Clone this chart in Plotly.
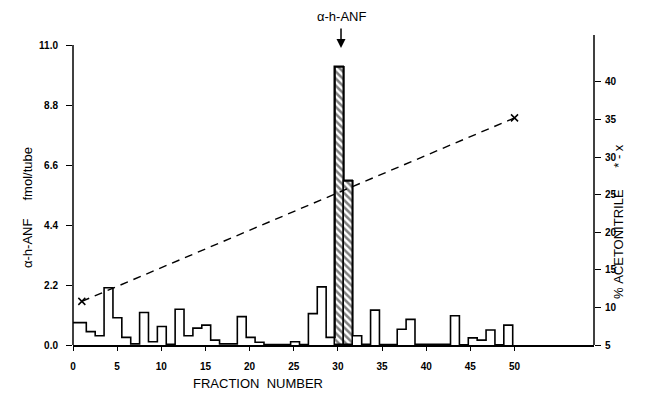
import plotly.graph_objects as go

# ---- data ----
fractions = list(range(1, 50))
anf_fmol = [0.82, 0.49, 0.34, 2.10, 1.00, 0.28, 0.04, 1.19, 0.12, 0.68,
            0.03, 1.31, 0.34, 0.62, 0.73, 0.18, 0.04, 0.04, 1.04, 0.28,
            0.10, 0.02, 0.02, 0.02, 0.12, 0.02, 1.15, 2.13, 0.28, 10.2,
            6.02, 0.34, 0.03, 1.28, 0.02, 0.02, 0.58, 0.94, 0.03, 0.03,
            0.03, 0.03, 1.07, 0.01, 0.26, 0.18, 0.55, 0.01, 0.73]
peak_fractions = [30, 31]
gradient_fractions = [1, 50]
acetonitrile_pct = [10.8, 35.2]
left_ticks = [0.0, 2.2, 4.4, 6.6, 8.8, 11.0]
right_ticks = [5, 10, 15, 20, 25, 30, 35, 40]
x_ticks = [0, 5, 10, 15, 20, 25, 30, 35, 40, 45, 50]

# bin edges (hand-drawn histogram, slightly offset from tick positions)
def right_edge(f):
    return f + 0.5 + 0.3 * f / 50

def left_edge(f):
    return max(right_edge(f - 1), 0) if f > 1 else 0

step_x = [left_edge(fractions[0])] + [right_edge(f) for f in fractions]
step_y = anf_fmol + [0]

fig = go.Figure()

# hatched peak bars
peak_vals = [anf_fmol[fractions.index(f)] for f in peak_fractions]
fig.add_trace(go.Bar(
    x=[(left_edge(f) + right_edge(f)) / 2 for f in peak_fractions],
    y=peak_vals,
    width=[right_edge(f) - left_edge(f) for f in peak_fractions],
    marker=dict(color="white", line=dict(color="black", width=1.5),
                pattern=dict(shape="\\", fgcolor="black", bgcolor="white",
                             size=5, solidity=0.5)),
    showlegend=False, hoverinfo="skip"))

# histogram outline
fig.add_trace(go.Scatter(
    x=step_x, y=step_y, mode="lines", line=dict(color="black", width=1.6, shape="hv"),
    showlegend=False, hoverinfo="skip"))

# acetonitrile gradient
fig.add_trace(go.Scatter(
    x=gradient_fractions, y=acetonitrile_pct, yaxis="y2", mode="lines+markers",
    line=dict(color="black", width=1.4, dash="8px,6px"),
    marker=dict(symbol="x-thin", size=7, line=dict(color="black", width=1.5), color="black"),
    showlegend=False, hoverinfo="skip"))

FAM = "Liberation Sans, Arial, sans-serif"
tickfont = dict(family=FAM, size=10, color="black", weight=700)
labfont = dict(family=FAM, size=13, color="black")

L_PX = 310 / 27.27  # left axis top value
R_TOP = 5 + 310 / 7.52

# page body has an 8px margin, so the figure is 8px smaller and offset
fig.update_layout(
    width=644, height=387,
    margin=dict(l=65, r=58, t=27, b=50, autoexpand=False),
    plot_bgcolor="white", paper_bgcolor="white",
    bargap=0,
    xaxis=dict(range=[0, 59], tickvals=x_ticks, ticks="outside", ticklen=4,
               tickwidth=1.2, tickcolor="black", showline=True, linecolor="black",
               linewidth=1.5, showgrid=False, zeroline=False, tickfont=tickfont,
               ticklabelstandoff=7, automargin=False),
    yaxis=dict(range=[0, L_PX], tickvals=left_ticks, tickformat=".1f",
               ticks="outside", ticklen=6, tickwidth=1.2, tickcolor="black",
               showline=False, showgrid=False, zeroline=False, tickfont=tickfont,
               ticklabelstandoff=6, automargin=False),
    yaxis2=dict(range=[5, R_TOP], tickvals=right_ticks, overlaying="y", side="right",
                ticks="outside", ticklen=6, tickwidth=1.2, tickcolor="black",
                showline=False, showgrid=False, zeroline=False, tickfont=tickfont,
                ticklabelstandoff=2, automargin=False),
    shapes=[
        dict(type="line", xref="paper", yref="y", x0=0, x1=0, y0=0, y1=11.0,
             line=dict(color="black", width=1.5)),
        dict(type="line", xref="paper", yref="paper", x0=1, x1=1, y0=0, y1=1,
             line=dict(color="black", width=1.5)),
    ],
    annotations=[
        dict(text="FRACTION\u00a0\u00a0NUMBER", xref="paper", yref="paper",
             x=(258 - 73) / 521, y=-38 / 310, xanchor="center", yanchor="middle",
             showarrow=False, font=dict(family=FAM, size=13, color="black")),
        dict(text="α-h-ANF\u00a0\u00a0\u00a0\u00a0\u00a0fmol/tube", xref="paper", yref="paper",
             x=(27 - 73) / 521, y=(345 - 208) / 310, xanchor="center", yanchor="middle",
             textangle=-90, showarrow=False, font=labfont),
        dict(text="%\u00a0ACETONITRILE\u00a0\u00a0\u00a0\u00a0\u00a0\u00a0*\u00a0-\u00a0x", xref="paper", yref="paper",
             x=(618 - 73) / 521, y=(345 - 222) / 310, xanchor="center", yanchor="middle",
             textangle=-90, showarrow=False, font=labfont),
        dict(text="α-h-ANF", xref="x", yref="paper", x=30.35, y=(345 - 16) / 310,
             xanchor="center", yanchor="middle",
             showarrow=False, font=dict(family=FAM, size=13, color="black")),
        dict(text="", xref="x", yref="paper", x=30.35, y=(345 - 48) / 310,
             showarrow=True, ax=0, ay=-21, arrowhead=2, arrowsize=1.2, arrowwidth=1.5,
             arrowcolor="black"),
    ],
)

fig.write_html("out.html")
